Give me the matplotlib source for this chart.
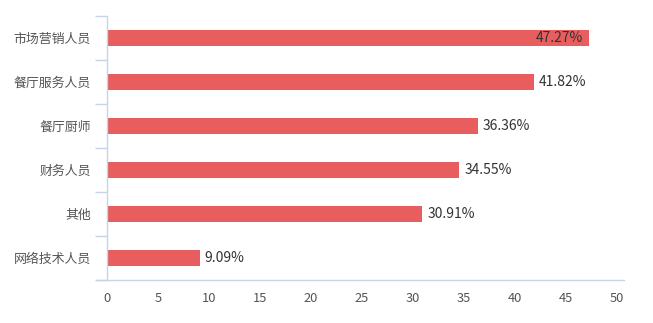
import matplotlib.pyplot as plt
from matplotlib.lines import Line2D

plt.rcParams['font.family'] = ['Noto Sans CJK SC', 'DejaVu Sans']

categories = ['市场营销人员', '餐厅服务人员', '餐厅厨师', '财务人员', '其他', '网络技术人员']
values = [47.27, 41.82, 36.36, 34.55, 30.91, 9.09]
xticks = [0, 5, 10, 15, 20, 25, 30, 35, 40, 45, 50]

bar_color = '#e85d5e'
axis_color = '#c5d3e6'

fig = plt.figure(figsize=(6.53, 3.23), dpi=100)
ax = fig.add_axes([107 / 653, 1 - 280 / 323, 510 / 653, 264 / 323])

n = len(categories)
ypos = list(range(n))[::-1]
ax.barh(ypos, values, height=0.37, color=bar_color, zorder=2)

# value labels; the longest bar gets its label inside the bar end
for y, v in zip(ypos, values):
    text = f'{v:.2f}%'
    if v == max(values):
        ax.text(v - 0.6, y, text, ha='right', va='center', fontsize=10, color='#333333')
    else:
        ax.text(v + 0.5, y, text, ha='left', va='center', fontsize=10, color='#333333')

ax.set_xlim(0, 50)
ax.set_ylim(-0.5, n - 0.5)
ax.set_xticks(xticks)
ax.set_xticklabels([str(t) for t in xticks])

# category names at bar centers, tick marks on the band boundaries
ax.set_yticks([y - 0.5 for y in range(n + 1)], minor=False)
ax.set_yticklabels([''] * (n + 1))
ax.set_yticks(ypos, minor=True)
ax.set_yticklabels(categories, minor=True)
ax.tick_params(axis='y', which='major', length=9, color=axis_color, width=1)
ax.tick_params(axis='y', which='minor', length=0, pad=11.5, labelsize=9.3, labelcolor='#555555')
ax.tick_params(axis='x', length=0, pad=9, labelsize=9.3, labelcolor='#555555')

for side in ['top', 'right', 'bottom']:
    ax.spines[side].set_visible(False)
ax.spines['left'].set_color(axis_color)
ax.spines['left'].set_linewidth(1)

# x axis line runs a little past the plot on both sides
ax.add_line(Line2D([-10 / 510, 517 / 510], [0, 0], transform=ax.transAxes,
                   color=axis_color, linewidth=1, clip_on=False))

fig.savefig('out.png', dpi=100)
